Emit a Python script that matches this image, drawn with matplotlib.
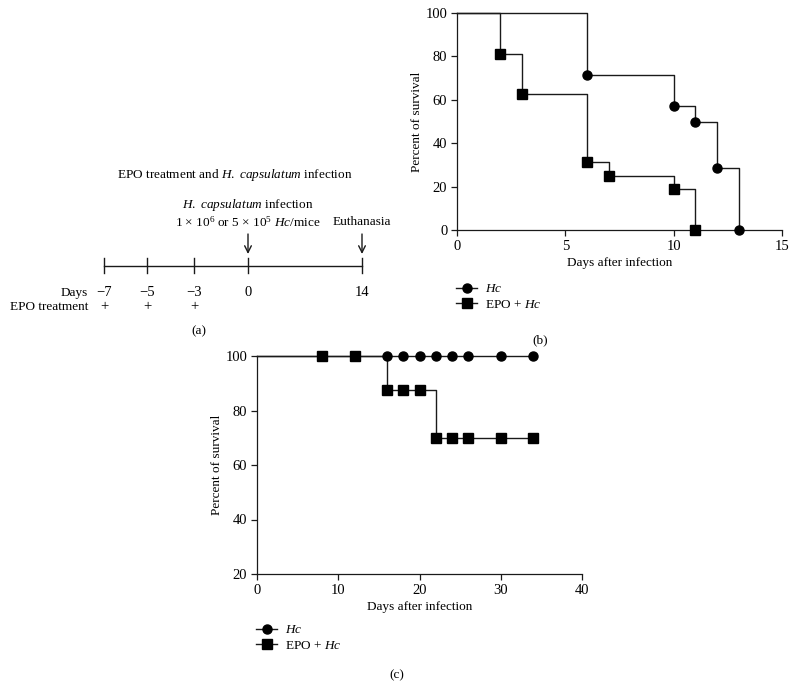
import matplotlib
matplotlib.use("Agg")
import matplotlib.pyplot as plt
from matplotlib.lines import Line2D
import numpy as np

plt.rcParams['font.family'] = ['Liberation Serif', 'DejaVu Serif']
plt.rcParams['font.size'] = 9
plt.rcParams['mathtext.fontset'] = 'custom'
plt.rcParams['mathtext.rm'] = 'Liberation Serif'
plt.rcParams['mathtext.it'] = 'Liberation Serif:italic'

# ---- data ----
# (a) timeline
tl_days = [-7, -5, -3, 0, 14]
tl_epo = [-7, -5, -3]
tl_events = {0: ['$\\it{H.}$ $\\it{capsulatum}$ infection',
                 '1 $\\times$ 10$^{6}$ or 5 $\\times$ 10$^{5}$ $\\it{Hc}$/mice'],
             14: ['Euthanasia']}

# (b) survival, lethal inoculum
b_hc_days = [0, 6, 10, 11, 12, 13]
b_hc_surv = [100, 71.4, 57.1, 50.0, 28.6, 0]
b_epo_days = [0, 2, 3, 6, 7, 10, 11]
b_epo_surv = [100, 81.25, 62.5, 31.25, 25.0, 18.75, 0]

# (c) survival, sublethal inoculum
c_hc_days = [0, 16, 18, 20, 22, 24, 26, 30, 34]
c_hc_surv = [100, 100, 100, 100, 100, 100, 100, 100, 100]
c_epo_days = [0, 8, 12, 16, 18, 20, 22, 24, 26, 30, 34]
c_epo_surv = [100, 100, 100, 87.5, 87.5, 87.5, 70, 70, 70, 70, 70]

series_labels = ['$\\it{Hc}$', 'EPO + $\\it{Hc}$']

# ---- layout ----
W, H = 796, 689
fig = plt.figure(figsize=(W / 100, H / 100), dpi=100)
line_col = '#1a1a1a'
num_fs = 10.5


def px(x0, y0, x1, y1):
    # pixel box -> figure fraction rect
    return [x0 / W, 1 - y1 / H, (x1 - x0) / W, (y1 - y0) / H]


def survival(ax, days, surv, marker):
    ax.plot(days, surv, drawstyle='steps-post', color=line_col, lw=1.0,
            clip_on=False, zorder=2)
    ax.plot(days[1:], surv[1:], ls='none', marker=marker, ms=6.5,
            color='black', clip_on=False, zorder=3)


def style(ax, xticks, yticks):
    for s in ['top', 'right']:
        ax.spines[s].set_visible(False)
    for s in ['left', 'bottom']:
        ax.spines[s].set_color(line_col)
        ax.spines[s].set_linewidth(0.9)
    ax.set_xticks(xticks)
    ax.set_yticks(yticks)
    ax.set_xlim(xticks[0], xticks[-1])
    ax.set_ylim(yticks[0], yticks[-1])
    ax.tick_params(direction='out', length=4, width=0.9, color=line_col,
                   labelsize=num_fs, pad=3)
    ax.set_xlabel('Days after infection', fontsize=9.5, labelpad=3)
    ax.set_ylabel('Percent of survival', fontsize=9.5, labelpad=2)


def legend(ax, x, y):
    handles = [Line2D([], [], color=line_col, lw=1.0, marker=m, ms=6.5,
                      markerfacecolor='black', markeredgecolor='black')
               for m in ['o', 's']]
    ax.legend(handles, series_labels, loc='upper left',
              bbox_to_anchor=(x / W, 1 - y / H), bbox_transform=fig.transFigure,
              frameon=False, handlelength=1.6, handletextpad=0.6,
              labelspacing=0.25, borderpad=0, borderaxespad=0, fontsize=9.5)


# panel (b)
ax_b = fig.add_axes(px(457, 13, 782, 230))
survival(ax_b, b_hc_days, b_hc_surv, 'o')
survival(ax_b, b_epo_days, b_epo_surv, 's')
style(ax_b, [0, 5, 10, 15], [0, 20, 40, 60, 80, 100])
legend(ax_b, 456, 283)

# panel (c)
ax_c = fig.add_axes(px(257, 356, 582, 574))
survival(ax_c, c_hc_days, c_hc_surv, 'o')
survival(ax_c, c_epo_days, c_epo_surv, 's')
style(ax_c, [0, 10, 20, 30, 40], [20, 40, 60, 80, 100])
legend(ax_c, 256, 624)

# panel (a): schematic drawn in pixel space
ax_a = fig.add_axes([0, 0, 1, 1], zorder=-1)
ax_a.set_xlim(0, W)
ax_a.set_ylim(H, 0)
ax_a.axis('off')

tl_px = [104, 147, 194, 248, 362]  # horizontal placement of the day marks
tl_y = 266
day_x = dict(zip(tl_days, tl_px))

ax_a.plot([tl_px[0], tl_px[-1]], [tl_y, tl_y], color=line_col, lw=1.0)
for d in tl_days:
    ax_a.plot([day_x[d], day_x[d]], [tl_y - 8, tl_y + 7], color=line_col, lw=1.0)
    lab = str(d).replace('-', '\u2212')
    ax_a.text(day_x[d], 293, lab, ha='center', va='center', fontsize=num_fs)
ax_a.text(88, 293, 'Days', ha='right', va='center', fontsize=9.5)
ax_a.text(88, 307, 'EPO treatment', ha='right', va='center', fontsize=9.5)
for d in tl_epo:
    ax_a.text(day_x[d], 307, '+', ha='center', va='center', fontsize=num_fs)

for d, lines in tl_events.items():
    ax_a.annotate('', xy=(day_x[d], 254), xytext=(day_x[d], 234),
                  arrowprops=dict(arrowstyle='->', color=line_col, lw=1.0,
                                  mutation_scale=12, shrinkA=0, shrinkB=0))
    for i, t in enumerate(reversed(lines)):
        ax_a.text(day_x[d], 222 - 17 * i, t, ha='center', va='center',
                  fontsize=9.5)

ax_a.text(235, 175, 'EPO treatment and $\\it{H.}$ $\\it{capsulatum}$ infection',
          ha='center', va='center', fontsize=9.5)

# panel letters
ax_a.text(199, 331, '(a)', ha='center', va='center', fontsize=9.5)
ax_a.text(540, 340, '(b)', ha='center', va='center', fontsize=9.5)
ax_a.text(397, 675, '(c)', ha='center', va='center', fontsize=9.5)

fig.savefig('out.png', dpi=100)
